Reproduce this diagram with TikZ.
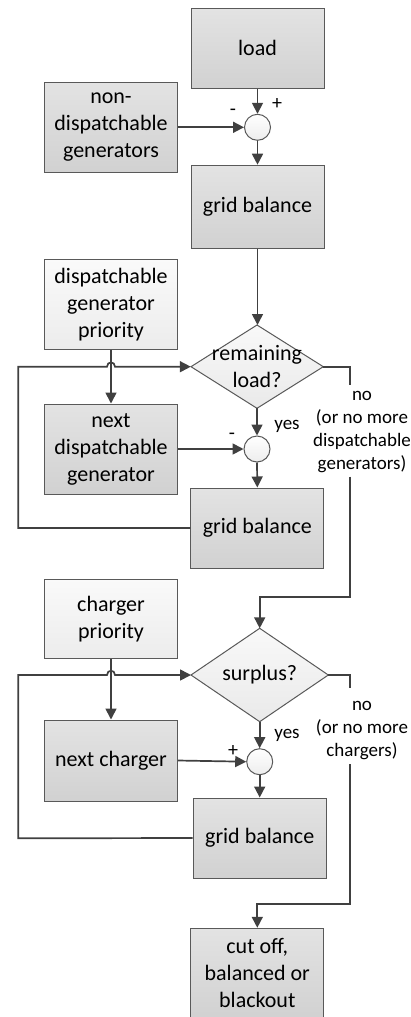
\documentclass[tikz,border=0pt]{standalone}
\usepackage{fontspec}
\setmainfont{Carlito}
\usetikzlibrary{arrows.meta}
\definecolor{edge}{HTML}{595959}
\definecolor{conn}{HTML}{404040}
\begin{document}
\begin{tikzpicture}[x=1pt,y=-1pt,
  every node/.style={font=\fontsize{22}{27}\selectfont, align=center, inner sep=0pt},
  graybox/.style={draw=edge, line width=1pt, top color=gray!22, bottom color=gray!36, minimum width=133pt},
  priobox/.style={draw=edge, line width=1pt, top color=gray!4, bottom color=gray!15, minimum width=133pt},
  decision/.style={draw=edge, line width=1pt, top color=gray!5, bottom color=gray!17},
  sumnode/.style={circle, draw=edge, line width=1pt, top color=white, bottom color=gray!14, minimum size=26pt},
  lbl/.style={font=\fontsize{19}{23}\selectfont},
  sgn/.style={font=\fontsize{20}{22}\selectfont},
  conn/.style={draw=conn, line width=1.7pt},
  arr/.style={conn, -{Triangle[length=11pt,width=11pt]}}
]
\useasboundingbox (0,0) rectangle (411,1017);

% nodes
\node[graybox, minimum height=80pt] (load) at (257.5,48) {load};
\node[graybox, minimum height=90pt] (nondisp) at (111,127.3) {non-\\dispatchable\\generators};
\node[sumnode] (s1) at (257.5,127.3) {};
\node[graybox, minimum height=83pt] (gb1) at (257.5,206.7) {grid balance};

\node[priobox, minimum height=90pt] (dprio) at (111,304.3) {dispatchable\\generator\\priority};
\path[decision] (191,366.7) -- (257,325) -- (323.3,366.7) -- (257,408.3) -- cycle;
\node[minimum width=132pt, minimum height=83pt] (d1) at (257,366.7) {remaining\\load?};
\node[graybox, minimum height=90pt] (ndg) at (111,449) {next\\dispatchable\\generator};
\node[sumnode] (s2) at (257,449) {};
\node[graybox, minimum height=80pt] (gb2) at (257.3,528) {grid balance};

\node[priobox, minimum height=79pt] (cprio) at (111,618.8) {charger\\priority};
\path[decision] (191,675) -- (259.7,628.3) -- (328.3,675) -- (259.7,721.7) -- cycle;
\node[minimum width=137pt, minimum height=93pt] (d2) at (259.7,675) {surplus?};
\node[graybox, minimum height=81pt] (nc) at (111,760.5) {next charger};
\node[sumnode] (s3) at (259.7,761.7) {};
\node[graybox, minimum height=80pt] (gb3) at (259.7,838) {grid balance};

\node[graybox, minimum height=90pt] (final) at (257.3,973.3) {cut off,\\balanced or\\blackout};

% labels
\node[sgn] (p1) at (277,104) {+};
\node[sgn] (m1) at (233,112) {-};
\node[sgn] (m2) at (232,436) {-};
\node[sgn] (p3) at (233,751) {+};
\node[lbl] (y1) at (287,426) {yes};
\node[lbl] (y2) at (287,735) {yes};
\node[lbl] (n1) at (362,432.5) {no\\(or no more\\dispatchable\\generators)};
\node[lbl] (n2) at (362,730.5) {no\\(or no more\\chargers)};

% coordinates
\coordinate (l1) at (18.3,528);
\coordinate (h1a) at (107,366.7);
\coordinate (h1b) at (115,366.7);
\coordinate (g1a) at (350,385);
\coordinate (g1b) at (350,476.7);
\coordinate (t1) at (259.7,596.7);
\coordinate (l2) at (18.3,838.3);
\coordinate (h2a) at (107,675);
\coordinate (h2b) at (115,675);
\coordinate (g2a) at (350,688);
\coordinate (g2b) at (350,764);
\coordinate (t2) at (257.3,904);

% connectors
\draw[arr] (load.south) -- (s1.north);
\draw[arr] (nondisp.east) -- (s1.west);
\draw[arr] (s1.south) -- (gb1.north);
\draw[arr] (gb1.south) -- (gb1.south |- d1.north);
\draw[arr] (dprio.south) -- (ndg.north);
\draw[arr] (d1.south) -- (s2.north);
\draw[arr] (ndg.east) -- (s2.west);
\draw[arr] (s2.south) -- (gb2.north);
\draw[arr] (gb2.west) -- (l1) |- (h1a) .. controls (107,361) and (115,361) .. (h1b) -- (d1.west);
\draw[conn] (d1.east) -| (g1a);
\draw[arr] (g1b) |- (t1) -- (d2.north);

\draw[arr] (cprio.south) -- (nc.north);
\draw[arr] (d2.south) -- (s3.north);
\draw[arr] (nc.east) -- (s3.west);
\draw[arr] (s3.south) -- (gb3.north);
\draw[arr] (gb3.west) -- (l2) |- (h2a) .. controls (107,669.3) and (115,669.3) .. (h2b) -- (d2.west);
\draw[conn] (d2.east) -| (g2a);
\draw[arr] (g2b) |- (t2) -- (final.north);
\end{tikzpicture}
\end{document}
